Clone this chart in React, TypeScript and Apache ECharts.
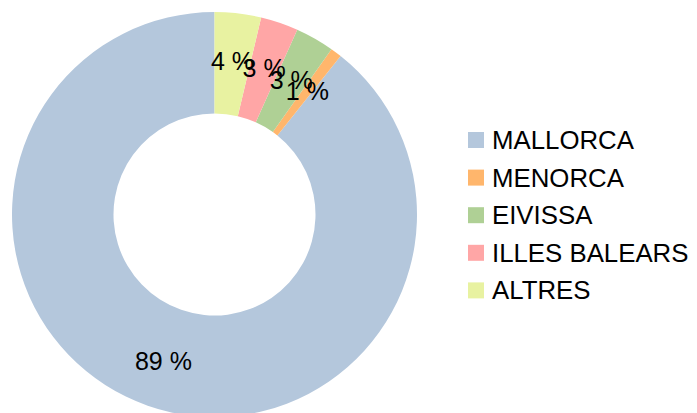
import React, { useEffect, useRef } from "react";
import * as echarts from "echarts";

const categories = ["MALLORCA", "MENORCA", "EIVISSA", "ILLES BALEARS", "ALTRES"];
const values = [89.3, 0.9, 3.1, 3.0, 3.7];
const colors = ["#b4c7dc", "#ffb66c", "#afd095", "#ffa6a6", "#e8f2a1"];

export default function App() {
  const ref = useRef<HTMLDivElement>(null);
  useEffect(() => {
    if (!ref.current) return;
    const chart = echarts.init(ref.current, undefined, { renderer: "svg" });
    chart.setOption({
      animation: false,
      backgroundColor: "#ffffff",
      color: colors,
      textStyle: { fontFamily: "Liberation Sans" },
      legend: {
        orient: "vertical",
        left: 463,
        top: 122,
        icon: "rect",
        itemWidth: 16,
        itemHeight: 16,
        itemGap: 11.6,
        data: categories,
        textStyle: {
          fontFamily: "Liberation Sans",
          fontSize: 25.8,
          color: "#000000",
          lineHeight: 25,
          padding: [0, 0, 0, 3],
        },
      },
      series: [
        {
          type: "pie",
          center: [214.5, 214.5],
          radius: [101, 202.5],
          startAngle: 90,
          clockwise: false,
          avoidLabelOverlap: false,
          labelLayout: { hideOverlap: false },
          itemStyle: { borderWidth: 0 },
          emphasis: { disabled: true },
          label: {
            show: true,
            position: "inside",
            fontFamily: "Liberation Sans",
            fontSize: 25,
            color: "#000000",
            formatter: (p: any) => Math.round(p.value) + " %",
          },
          labelLine: { show: false },
          data: categories.map((name, i) => ({ name, value: values[i] })),
        },
      ],
    });
    return () => chart.dispose();
  }, []);
  return (
    <div
      ref={ref}
      style={{ position: "fixed", left: 0, top: 0, width: 697, height: 413 }}
    />
  );
}
